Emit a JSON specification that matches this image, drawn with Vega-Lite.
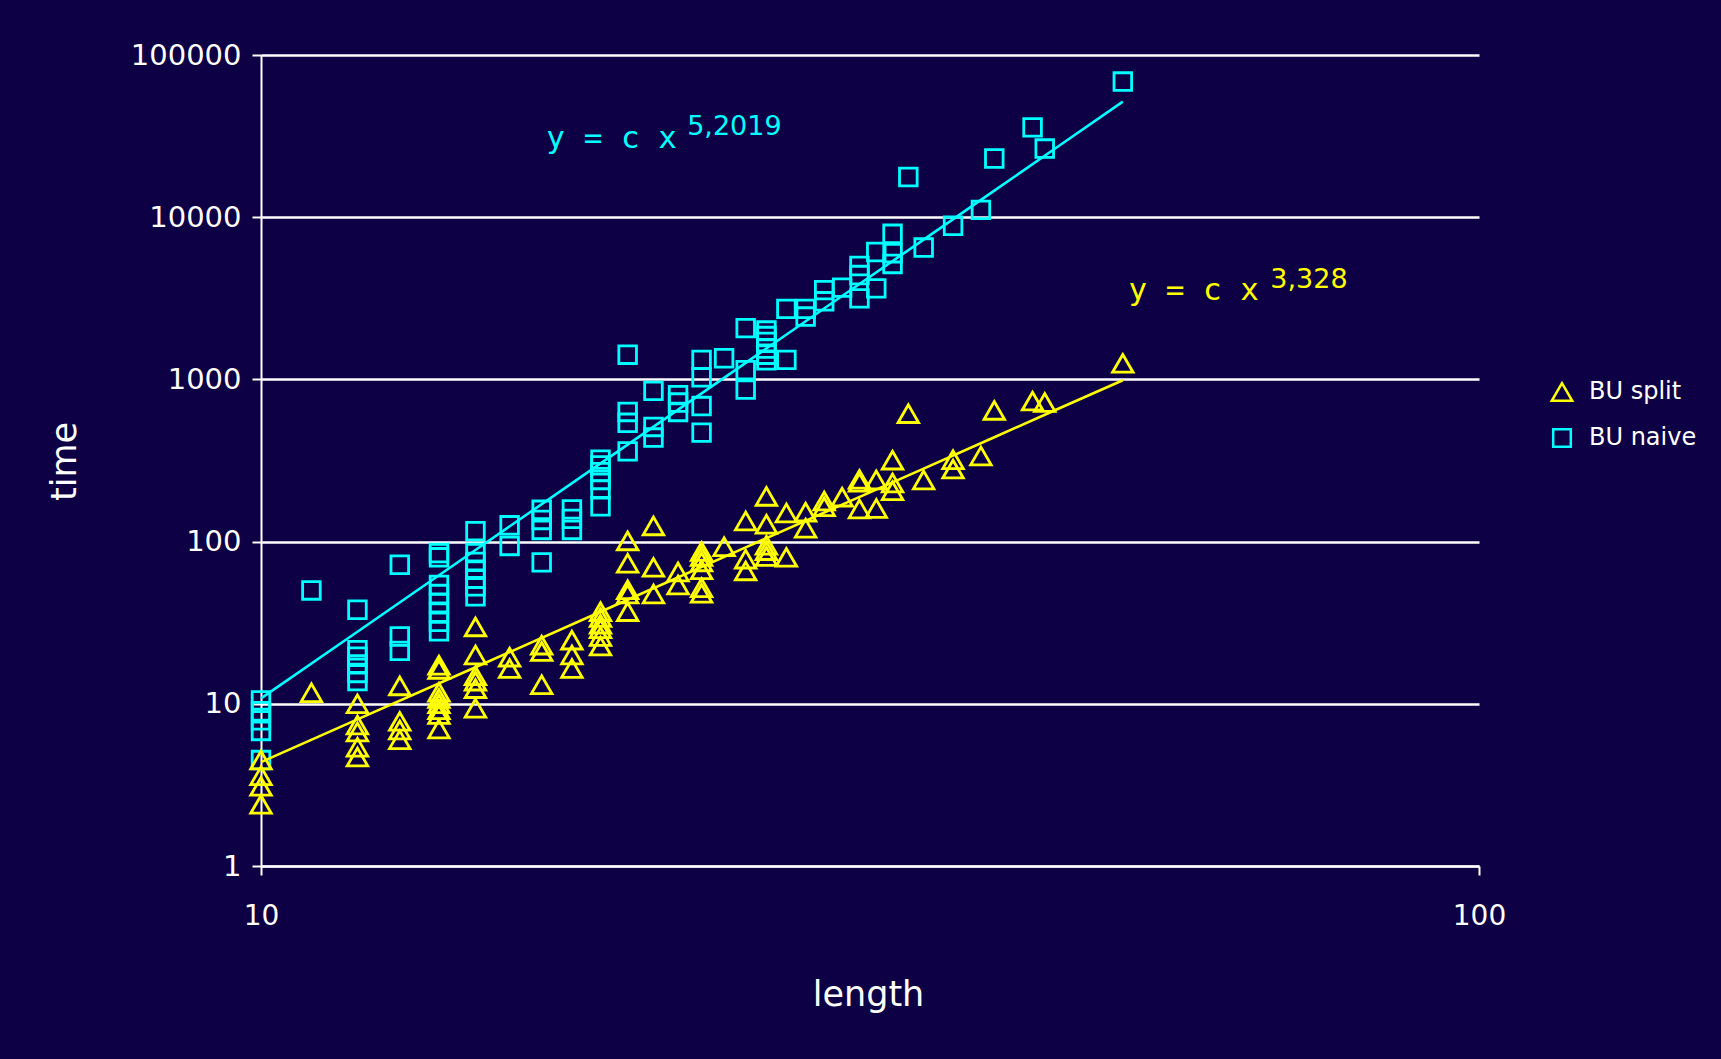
{
  "$schema": "https://vega.github.io/schema/vega-lite/v6.json",
  "autosize": {"type": "none"},
  "width": 1218,
  "height": 811,
  "padding": {"left": 261, "top": 55, "right": 242, "bottom": 193},
  "background": "#0d0045",
  "config": {"view": {"stroke": null}, "font": "DejaVu Sans"},
  "datasets": {
    "points": [
      {"length": 10, "time": 10.5, "series": "BU naive"},
      {"length": 10, "time": 9.0, "series": "BU naive"},
      {"length": 10, "time": 7.9, "series": "BU naive"},
      {"length": 10, "time": 6.8, "series": "BU naive"},
      {"length": 10, "time": 4.5, "series": "BU naive"},
      {"length": 11, "time": 50, "series": "BU naive"},
      {"length": 12, "time": 38, "series": "BU naive"},
      {"length": 12, "time": 21.4, "series": "BU naive"},
      {"length": 12, "time": 19.5, "series": "BU naive"},
      {"length": 12, "time": 17.5, "series": "BU naive"},
      {"length": 12, "time": 15.5, "series": "BU naive"},
      {"length": 12, "time": 13.8, "series": "BU naive"},
      {"length": 13, "time": 72, "series": "BU naive"},
      {"length": 13, "time": 26, "series": "BU naive"},
      {"length": 13, "time": 21.2, "series": "BU naive"},
      {"length": 14, "time": 85, "series": "BU naive"},
      {"length": 14, "time": 80, "series": "BU naive"},
      {"length": 14, "time": 54, "series": "BU naive"},
      {"length": 14, "time": 47.5, "series": "BU naive"},
      {"length": 14, "time": 41.7, "series": "BU naive"},
      {"length": 14, "time": 36.5, "series": "BU naive"},
      {"length": 14, "time": 32, "series": "BU naive"},
      {"length": 14, "time": 28, "series": "BU naive"},
      {"length": 15, "time": 116, "series": "BU naive"},
      {"length": 15, "time": 85, "series": "BU naive"},
      {"length": 15, "time": 75, "series": "BU naive"},
      {"length": 15, "time": 67, "series": "BU naive"},
      {"length": 15, "time": 59, "series": "BU naive"},
      {"length": 15, "time": 53, "series": "BU naive"},
      {"length": 15, "time": 46, "series": "BU naive"},
      {"length": 16, "time": 126, "series": "BU naive"},
      {"length": 16, "time": 94, "series": "BU naive"},
      {"length": 17, "time": 157, "series": "BU naive"},
      {"length": 17, "time": 136, "series": "BU naive"},
      {"length": 17, "time": 118, "series": "BU naive"},
      {"length": 17, "time": 74.5, "series": "BU naive"},
      {"length": 18, "time": 158, "series": "BU naive"},
      {"length": 18, "time": 138, "series": "BU naive"},
      {"length": 18, "time": 118, "series": "BU naive"},
      {"length": 19, "time": 320, "series": "BU naive"},
      {"length": 19, "time": 295, "series": "BU naive"},
      {"length": 19, "time": 268, "series": "BU naive"},
      {"length": 19, "time": 240, "series": "BU naive"},
      {"length": 19, "time": 210, "series": "BU naive"},
      {"length": 19, "time": 165, "series": "BU naive"},
      {"length": 20, "time": 1420, "series": "BU naive"},
      {"length": 20, "time": 630, "series": "BU naive"},
      {"length": 20, "time": 540, "series": "BU naive"},
      {"length": 20, "time": 360, "series": "BU naive"},
      {"length": 21, "time": 850, "series": "BU naive"},
      {"length": 21, "time": 509, "series": "BU naive"},
      {"length": 21, "time": 438, "series": "BU naive"},
      {"length": 22, "time": 800, "series": "BU naive"},
      {"length": 22, "time": 720, "series": "BU naive"},
      {"length": 22, "time": 630, "series": "BU naive"},
      {"length": 23, "time": 1320, "series": "BU naive"},
      {"length": 23, "time": 1030, "series": "BU naive"},
      {"length": 23, "time": 685, "series": "BU naive"},
      {"length": 23, "time": 470, "series": "BU naive"},
      {"length": 24, "time": 1350, "series": "BU naive"},
      {"length": 25, "time": 2070, "series": "BU naive"},
      {"length": 25, "time": 1140, "series": "BU naive"},
      {"length": 25, "time": 866, "series": "BU naive"},
      {"length": 26, "time": 2000, "series": "BU naive"},
      {"length": 26, "time": 1850, "series": "BU naive"},
      {"length": 26, "time": 1700, "series": "BU naive"},
      {"length": 26, "time": 1550, "series": "BU naive"},
      {"length": 26, "time": 1420, "series": "BU naive"},
      {"length": 26, "time": 1310, "series": "BU naive"},
      {"length": 27, "time": 2720, "series": "BU naive"},
      {"length": 27, "time": 1320, "series": "BU naive"},
      {"length": 28, "time": 2720, "series": "BU naive"},
      {"length": 28, "time": 2440, "series": "BU naive"},
      {"length": 29, "time": 3550, "series": "BU naive"},
      {"length": 29, "time": 3030, "series": "BU naive"},
      {"length": 30, "time": 3680, "series": "BU naive"},
      {"length": 31, "time": 5000, "series": "BU naive"},
      {"length": 31, "time": 4400, "series": "BU naive"},
      {"length": 31, "time": 3160, "series": "BU naive"},
      {"length": 32, "time": 6100, "series": "BU naive"},
      {"length": 32, "time": 3640, "series": "BU naive"},
      {"length": 33, "time": 7900, "series": "BU naive"},
      {"length": 33, "time": 6000, "series": "BU naive"},
      {"length": 33, "time": 5150, "series": "BU naive"},
      {"length": 34, "time": 17700, "series": "BU naive"},
      {"length": 35, "time": 6500, "series": "BU naive"},
      {"length": 37, "time": 8850, "series": "BU naive"},
      {"length": 39, "time": 11100, "series": "BU naive"},
      {"length": 40, "time": 23000, "series": "BU naive"},
      {"length": 43, "time": 35800, "series": "BU naive"},
      {"length": 44, "time": 26500, "series": "BU naive"},
      {"length": 51, "time": 68600, "series": "BU naive"},
      {"length": 10, "time": 4.5, "series": "BU split"},
      {"length": 10, "time": 3.6, "series": "BU split"},
      {"length": 10, "time": 3.1, "series": "BU split"},
      {"length": 10, "time": 2.4, "series": "BU split"},
      {"length": 11, "time": 11.7, "series": "BU split"},
      {"length": 12, "time": 10, "series": "BU split"},
      {"length": 12, "time": 7.4, "series": "BU split"},
      {"length": 12, "time": 6.7, "series": "BU split"},
      {"length": 12, "time": 5.4, "series": "BU split"},
      {"length": 12, "time": 4.7, "series": "BU split"},
      {"length": 13, "time": 12.9, "series": "BU split"},
      {"length": 13, "time": 7.8, "series": "BU split"},
      {"length": 13, "time": 6.9, "series": "BU split"},
      {"length": 13, "time": 6.0, "series": "BU split"},
      {"length": 14, "time": 17.3, "series": "BU split"},
      {"length": 14, "time": 16.3, "series": "BU split"},
      {"length": 14, "time": 11.8, "series": "BU split"},
      {"length": 14, "time": 10.8, "series": "BU split"},
      {"length": 14, "time": 10.0, "series": "BU split"},
      {"length": 14, "time": 9.2, "series": "BU split"},
      {"length": 14, "time": 8.6, "series": "BU split"},
      {"length": 14, "time": 7.0, "series": "BU split"},
      {"length": 15, "time": 29.8, "series": "BU split"},
      {"length": 15, "time": 20, "series": "BU split"},
      {"length": 15, "time": 14.9, "series": "BU split"},
      {"length": 15, "time": 13.8, "series": "BU split"},
      {"length": 15, "time": 12.4, "series": "BU split"},
      {"length": 15, "time": 9.4, "series": "BU split"},
      {"length": 16, "time": 19.4, "series": "BU split"},
      {"length": 16, "time": 16.5, "series": "BU split"},
      {"length": 17, "time": 23, "series": "BU split"},
      {"length": 17, "time": 21, "series": "BU split"},
      {"length": 17, "time": 13.1, "series": "BU split"},
      {"length": 18, "time": 24.7, "series": "BU split"},
      {"length": 18, "time": 20, "series": "BU split"},
      {"length": 18, "time": 16.5, "series": "BU split"},
      {"length": 19, "time": 37, "series": "BU split"},
      {"length": 19, "time": 34, "series": "BU split"},
      {"length": 19, "time": 31, "series": "BU split"},
      {"length": 19, "time": 29, "series": "BU split"},
      {"length": 19, "time": 26, "series": "BU split"},
      {"length": 19, "time": 22.7, "series": "BU split"},
      {"length": 20, "time": 101, "series": "BU split"},
      {"length": 20, "time": 73.5, "series": "BU split"},
      {"length": 20, "time": 50.5, "series": "BU split"},
      {"length": 20, "time": 47.5, "series": "BU split"},
      {"length": 20, "time": 37, "series": "BU split"},
      {"length": 21, "time": 125, "series": "BU split"},
      {"length": 21, "time": 69.4, "series": "BU split"},
      {"length": 21, "time": 47.5, "series": "BU split"},
      {"length": 22, "time": 65, "series": "BU split"},
      {"length": 22, "time": 54, "series": "BU split"},
      {"length": 23, "time": 87, "series": "BU split"},
      {"length": 23, "time": 81, "series": "BU split"},
      {"length": 23, "time": 75, "series": "BU split"},
      {"length": 23, "time": 67, "series": "BU split"},
      {"length": 23, "time": 52, "series": "BU split"},
      {"length": 23, "time": 48, "series": "BU split"},
      {"length": 24, "time": 93, "series": "BU split"},
      {"length": 25, "time": 134, "series": "BU split"},
      {"length": 25, "time": 78, "series": "BU split"},
      {"length": 25, "time": 66, "series": "BU split"},
      {"length": 26, "time": 190, "series": "BU split"},
      {"length": 26, "time": 128, "series": "BU split"},
      {"length": 26, "time": 95, "series": "BU split"},
      {"length": 26, "time": 88, "series": "BU split"},
      {"length": 26, "time": 81, "series": "BU split"},
      {"length": 27, "time": 150, "series": "BU split"},
      {"length": 27, "time": 80, "series": "BU split"},
      {"length": 28, "time": 152, "series": "BU split"},
      {"length": 28, "time": 121, "series": "BU split"},
      {"length": 29, "time": 178, "series": "BU split"},
      {"length": 29, "time": 164, "series": "BU split"},
      {"length": 30, "time": 188, "series": "BU split"},
      {"length": 31, "time": 242, "series": "BU split"},
      {"length": 31, "time": 232, "series": "BU split"},
      {"length": 31, "time": 159, "series": "BU split"},
      {"length": 32, "time": 240, "series": "BU split"},
      {"length": 32, "time": 160, "series": "BU split"},
      {"length": 33, "time": 318, "series": "BU split"},
      {"length": 33, "time": 230, "series": "BU split"},
      {"length": 33, "time": 206, "series": "BU split"},
      {"length": 34, "time": 615, "series": "BU split"},
      {"length": 35, "time": 240, "series": "BU split"},
      {"length": 37, "time": 320, "series": "BU split"},
      {"length": 37, "time": 280, "series": "BU split"},
      {"length": 39, "time": 337, "series": "BU split"},
      {"length": 40, "time": 644, "series": "BU split"},
      {"length": 43, "time": 735, "series": "BU split"},
      {"length": 44, "time": 720, "series": "BU split"},
      {"length": 51, "time": 1256, "series": "BU split"}
    ],
    "fits": [
      {"length": 10, "time": 10.8, "series": "BU naive"},
      {"length": 12, "time": 27.8, "series": "BU naive"},
      {"length": 15, "time": 88.7, "series": "BU naive"},
      {"length": 20, "time": 396, "series": "BU naive"},
      {"length": 25, "time": 1265, "series": "BU naive"},
      {"length": 30, "time": 3266, "series": "BU naive"},
      {"length": 35, "time": 7280, "series": "BU naive"},
      {"length": 40, "time": 14580, "series": "BU naive"},
      {"length": 45, "time": 26900, "series": "BU naive"},
      {"length": 51, "time": 51600, "series": "BU naive"},
      {"length": 10, "time": 4.37, "series": "BU split"},
      {"length": 12, "time": 8.01, "series": "BU split"},
      {"length": 15, "time": 16.8, "series": "BU split"},
      {"length": 20, "time": 43.8, "series": "BU split"},
      {"length": 25, "time": 92.1, "series": "BU split"},
      {"length": 30, "time": 169, "series": "BU split"},
      {"length": 35, "time": 282, "series": "BU split"},
      {"length": 40, "time": 440, "series": "BU split"},
      {"length": 45, "time": 652, "series": "BU split"},
      {"length": 51, "time": 988, "series": "BU split"}
    ],
    "naivemain": [{"length": 17.15, "time": 26700, "text": "y = c x"}],
    "naivesup": [{"length": 22.38, "time": 32140, "text": "5,2019"}],
    "splitmain": [{"length": 51.54, "time": 3087, "text": "y = c x"}],
    "splitsup": [{"length": 67.4, "time": 3660, "text": "3,328"}]
  },
  "layer": [
    {
      "data": {"name": "points"},
      "mark": {"type": "point", "filled": false, "strokeWidth": 2.8, "opacity": 1},
      "encoding": {
        "x": {
          "field": "length", "type": "quantitative",
          "scale": {"type": "log", "domain": [10, 100]},
          "axis": {
            "values": [10, 100], "format": "d", "title": "length", "grid": false,
            "domainColor": "#ffffff", "domainWidth": 2,
            "tickColor": "#ffffff", "tickWidth": 2, "tickSize": 9,
            "labelColor": "#ffffff", "labelFontSize": 28, "labelPadding": 27, "labelFlush": false,
            "labelFont": "DejaVu Sans",
            "titleColor": "#ffffff", "titleFontSize": 35, "titleFontWeight": "normal",
            "titleFont": "DejaVu Sans",
            "titleX": 607, "titleY": 139, "titleBaseline": "alphabetic", "titleAlign": "center"
          }
        },
        "y": {
          "field": "time", "type": "quantitative",
          "scale": {"type": "log", "domain": [1, 100000]},
          "axis": {
            "values": [1, 10, 100, 1000, 10000, 100000], "format": "d", "title": "time",
            "grid": true, "gridColor": "#ffffff", "gridWidth": 2.5, "gridOpacity": 1,
            "domainColor": "#ffffff", "domainWidth": 2,
            "tickColor": "#ffffff", "tickWidth": 2, "tickSize": 9,
            "labelColor": "#ffffff", "labelFontSize": 29, "labelPadding": 11,
            "labelFont": "DejaVu Sans",
            "titleColor": "#ffffff", "titleFontSize": 35, "titleFontWeight": "normal",
            "titleFont": "DejaVu Sans",
            "titleX": -186, "titleY": 406, "titleAngle": -90, "titleBaseline": "alphabetic", "titleAlign": "center"
          }
        },
        "shape": {
          "field": "series", "type": "nominal",
          "scale": {"domain": ["BU split", "BU naive"], "range": ["triangle-up", "square"]},
          "legend": {
            "title": null, "orient": "none", "legendX": 1289, "legendY": 325,
            "labelColor": "#ffffff", "labelFontSize": 24, "labelFont": "DejaVu Sans",
            "symbolSize": 200, "symbolStrokeWidth": 2.5, "symbolFillColor": "transparent",
            "labelOffset": 15, "rowPadding": 18
          }
        },
        "color": {
          "field": "series", "type": "nominal",
          "scale": {"domain": ["BU split", "BU naive"], "range": ["#ffff00", "#00ffff"]},
          "legend": {
            "title": null, "orient": "none", "legendX": 1289, "legendY": 325,
            "labelColor": "#ffffff", "labelFontSize": 24, "labelFont": "DejaVu Sans",
            "symbolSize": 200, "symbolStrokeWidth": 2.5, "symbolFillColor": "transparent",
            "labelOffset": 15, "rowPadding": 18
          }
        },
        "size": {
          "field": "series", "type": "nominal",
          "scale": {"domain": ["BU split", "BU naive"], "range": [420, 310]},
          "legend": null
        }
      }
    },
    {
      "data": {"name": "fits"},
      "mark": {"type": "line", "strokeWidth": 2.6},
      "encoding": {
        "x": {"field": "length", "type": "quantitative"},
        "y": {"field": "time", "type": "quantitative"},
        "color": {"field": "series", "type": "nominal", "legend": null}
      }
    },
    {
      "data": {"name": "naivemain"},
      "mark": {"type": "text", "align": "left", "baseline": "alphabetic", "color": "#00ffff", "font": "DejaVu Sans Mono", "fontSize": 31},
      "encoding": {
        "x": {"field": "length", "type": "quantitative"},
        "y": {"field": "time", "type": "quantitative"},
        "text": {"field": "text"}
      }
    },
    {
      "data": {"name": "naivesup"},
      "mark": {"type": "text", "align": "left", "baseline": "alphabetic", "color": "#00ffff", "font": "DejaVu Sans", "fontSize": 27},
      "encoding": {
        "x": {"field": "length", "type": "quantitative"},
        "y": {"field": "time", "type": "quantitative"},
        "text": {"field": "text"}
      }
    },
    {
      "data": {"name": "splitmain"},
      "mark": {"type": "text", "align": "left", "baseline": "alphabetic", "color": "#ffff00", "font": "DejaVu Sans Mono", "fontSize": 31},
      "encoding": {
        "x": {"field": "length", "type": "quantitative"},
        "y": {"field": "time", "type": "quantitative"},
        "text": {"field": "text"}
      }
    },
    {
      "data": {"name": "splitsup"},
      "mark": {"type": "text", "align": "left", "baseline": "alphabetic", "color": "#ffff00", "font": "DejaVu Sans", "fontSize": 27},
      "encoding": {
        "x": {"field": "length", "type": "quantitative"},
        "y": {"field": "time", "type": "quantitative"},
        "text": {"field": "text"}
      }
    }
  ]
}
